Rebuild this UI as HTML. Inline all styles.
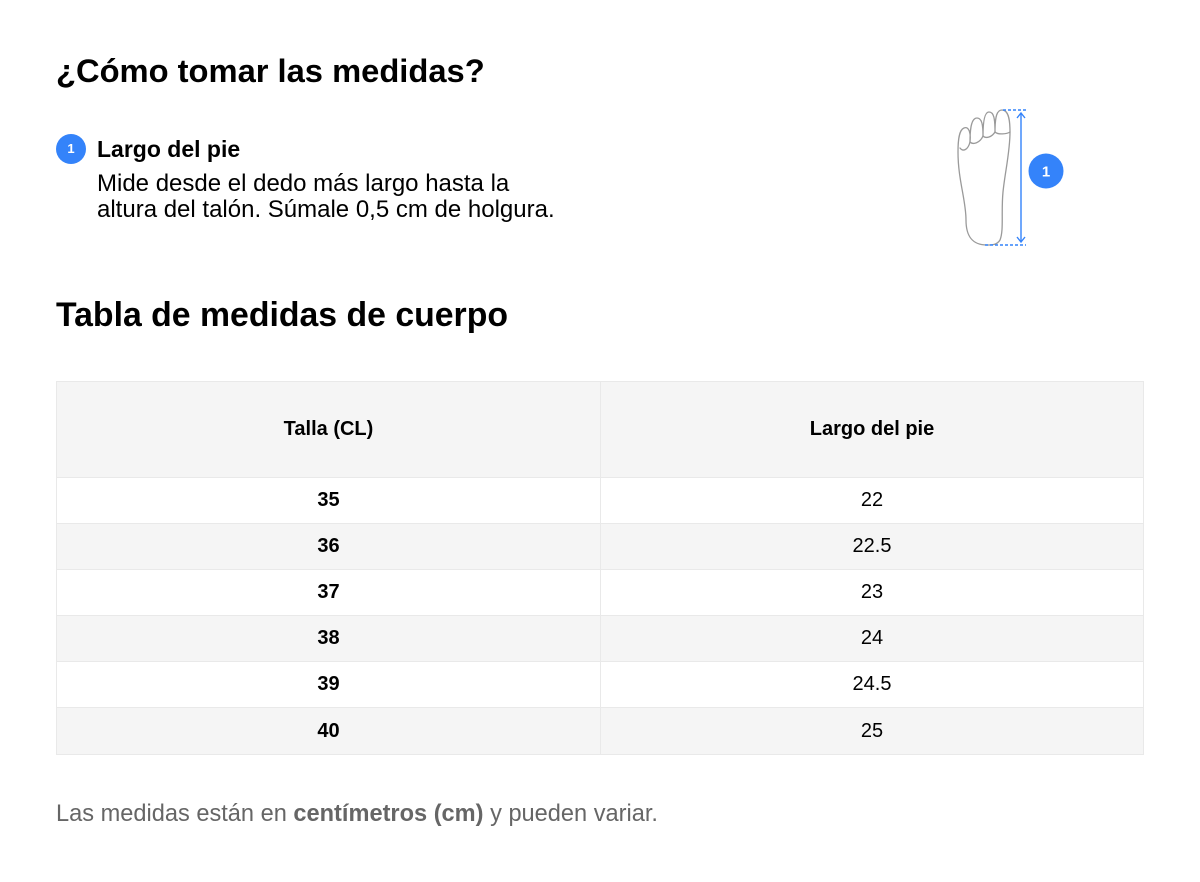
<!DOCTYPE html>
<html>
<head>
<meta charset="utf-8">
<style>
  html,body{margin:0;padding:0;background:#fff;}
  body{width:1200px;height:882px;position:relative;overflow:hidden;font-family:"Liberation Sans",Arial,sans-serif;color:#000;}
  .abs{position:absolute;white-space:nowrap;}
  .h1{font-weight:bold;left:56px;}
  .badge{position:absolute;left:56px;top:134px;width:30px;height:30px;border-radius:50%;background:#3483fa;color:#fff;font-size:13px;font-weight:bold;text-align:center;line-height:30px;}
  table{position:absolute;left:56px;top:381px;width:1088px;border-collapse:collapse;font-size:20px;}
  td{border:1.5px solid #e9e9e9;text-align:center;padding:0;}
  tr.g td{background:#f5f5f5;}
  tr.w td{background:#fff;}
  td.l{font-weight:bold;width:543px;}
</style>
</head>
<body>
  <div class="abs h1" style="top:55px;font-size:32.7px;line-height:32.7px;">¿Cómo tomar las medidas?</div>

  <div class="badge">1</div>
  <div class="abs" style="left:97px;top:137.5px;font-size:23px;line-height:23px;font-weight:bold;">Largo del pie</div>
  <div class="abs" style="left:97px;top:170.5px;font-size:24px;line-height:26px;">Mide desde el dedo más largo hasta la<br>altura del talón. Súmale 0,5 cm de holgura.</div>

  <svg class="abs" style="left:0;top:0;" width="1200" height="300" viewBox="0 0 1200 300">
    <g fill="none" stroke="#9a9a9a" stroke-width="1.3" stroke-linejoin="round" stroke-linecap="round">
      <path d="M987 245 C972 245 966 236 966 220 C966 200 958 180 958 152 C958 140 959 130 964 128 C969 126 971 133 970 142
               C970 126 972 118 977 118 C982 118 983 125 983 136
               C983 120 985 112 989 112 C994 112 995 119 995 132
               C995 116 997 110 1002 110 C1008 110 1010 118 1010 132
               C1010 152 1005 172 1003 192 C1001 212 1004 230 1000 240 C997 245 992 245 987 245 Z"/>
      <path d="M960 148 C963 152 968 150 970 142"/>
      <path d="M970 142 C973 145 980 143 983 136"/>
      <path d="M983 136 C986 139 992 137 995 132"/>
      <path d="M995 132 C998 135 1007 134 1010 132"/>
    </g>
    <g stroke="#3483fa" stroke-width="1.4" fill="none">
      <line x1="1003" y1="110" x2="1026" y2="110" stroke-dasharray="3 2"/>
      <line x1="985" y1="245" x2="1026" y2="245" stroke-dasharray="3 2"/>
      <line x1="1021" y1="113" x2="1021" y2="242"/>
      <polyline points="1017,118 1021,113 1025,118"/>
      <polyline points="1017,237 1021,242 1025,237"/>
    </g>
    <circle cx="1046" cy="171" r="17.5" fill="#3483fa"/>
    <text x="1046" y="176.5" fill="#fff" font-family="Liberation Sans, Arial, sans-serif" font-size="15" font-weight="bold" text-anchor="middle">1</text>
  </svg>

  <div class="abs h1" style="top:298.5px;font-size:33.8px;line-height:33.8px;">Tabla de medidas de cuerpo</div>

  <table>
    <tr class="g" style="height:96px;font-weight:bold;"><td class="l">Talla (CL)</td><td style="font-weight:bold;">Largo del pie</td></tr>
    <tr class="w" style="height:46px;"><td class="l">35</td><td>22</td></tr>
    <tr class="g" style="height:46px;"><td class="l">36</td><td>22.5</td></tr>
    <tr class="w" style="height:46px;"><td class="l">37</td><td>23</td></tr>
    <tr class="g" style="height:46px;"><td class="l">38</td><td>24</td></tr>
    <tr class="w" style="height:46px;"><td class="l">39</td><td>24.5</td></tr>
    <tr class="g" style="height:47px;"><td class="l">40</td><td>25</td></tr>
  </table>

  <div class="abs" style="left:56px;top:802.5px;font-size:23.6px;line-height:23.6px;color:#666;">Las medidas están en <b>centímetros (cm)</b> y pueden variar.</div>
</body>
</html>
